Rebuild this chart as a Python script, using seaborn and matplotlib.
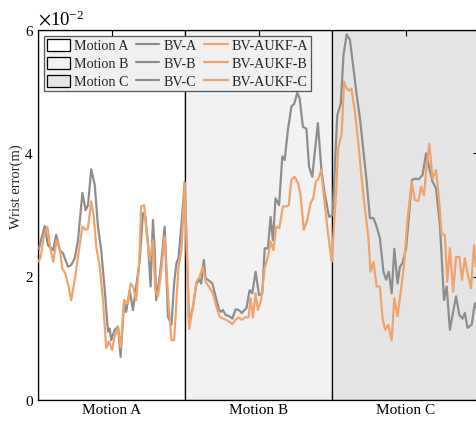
import numpy as np
import pandas as pd
import matplotlib
matplotlib.use("Agg")
import matplotlib.pyplot as plt
from matplotlib.patches import Patch
from matplotlib.lines import Line2D
from matplotlib.ticker import ScalarFormatter
import seaborn as sns

# ---------------- data (values in units of 1e-2 m) ----------------
motions = ["Motion A", "Motion B", "Motion C"]
section_edges = [0, 50, 100, 150]
tick_pos = [25, 75, 125]

t_bv_a = [0.3, 0.9, 2.3, 3.4, 5.1, 6.2, 7.4, 8.5, 10.2, 11.3, 12.5, 13.6, 15.1, 16.2, 17.0, 18.1, 19.3,
          20.4, 21.5, 22.7, 23.8, 24.4, 24.9, 26.1, 27.2, 28.1, 29.3, 30.0, 31.2, 32.3, 33.4, 34.6, 35.7,
          36.5, 37.4, 38.3, 39.1, 39.7, 40.2, 41.4, 42.0, 43.1, 44.2, 45.4, 46.3, 47.1, 47.8, 49.0, 49.9]
bv_a = [2.45, 2.57, 2.82, 2.51, 2.43, 2.68, 2.43, 2.38, 2.16, 2.19, 2.30, 2.59, 3.36, 3.08, 3.16, 3.74, 3.49,
        2.81, 2.43, 1.78, 1.11, 1.16, 0.97, 1.14, 1.19, 0.70, 1.59, 1.43, 1.78, 1.46, 1.84, 2.27, 3.03,
        2.97, 2.54, 1.84, 2.92, 2.43, 1.62, 2.00, 2.27, 2.81, 1.35, 1.22, 1.89, 2.22, 2.30, 2.97, 3.54]

t_uk_a = [0.3, 0.9, 2.0, 3.2, 4.3, 5.2, 6.3, 7.4, 8.2, 9.3, 10.4, 11.3, 12.5, 13.6, 15.1, 16.2, 17.0, 18.1,
          19.0, 19.8, 21.0, 22.1, 23.2, 24.1, 25.2, 26.1, 27.2, 28.1, 29.3, 30.6, 31.5, 32.3, 33.4, 34.4,
          35.1, 36.1, 37.2, 38.0, 39.1, 39.9, 40.8, 41.7, 43.1, 44.4, 45.4, 46.3, 47.1, 47.8, 48.8, 49.9]
aukf_a = [2.25, 2.32, 2.65, 2.81, 2.43, 2.24, 2.59, 2.46, 2.14, 2.05, 1.84, 1.62, 1.95, 2.32, 2.81, 2.76, 2.78, 3.22,
          2.97, 2.49, 2.16, 1.62, 0.84, 0.95, 0.81, 1.03, 1.19, 0.85, 1.62, 1.57, 1.89, 1.84, 1.62, 2.22,
          3.14, 3.16, 2.59, 2.27, 2.59, 1.78, 1.68, 2.00, 2.65, 1.57, 0.97, 0.97, 1.62, 2.16, 2.43, 3.51]

t_bv_b = [51.4, 52.7, 53.9, 55.0, 55.5, 56.4, 57.0, 57.8, 59.3, 60.4, 61.6, 62.3, 62.9, 63.8, 65.0, 66.1,
          67.2, 68.3, 69.3, 70.9, 72.0, 72.9, 74.0, 75.2, 76.3, 77.1, 78.2, 79.1, 79.9, 80.8, 82.0, 83.1,
          83.9, 85.0, 86.2, 87.1, 88.2, 89.0, 90.1, 91.3, 92.2, 93.3, 94.1, 95.2, 96.4, 97.5, 99.0, 99.9]
bv_b = [1.24, 1.51, 1.89, 1.95, 1.89, 2.27, 1.97, 1.95, 1.89, 1.68, 1.46, 1.43, 1.46, 1.38, 1.36, 1.32,
        1.47, 1.46, 1.41, 1.49, 1.78, 1.73, 2.08, 1.70, 1.73, 2.46, 2.46, 2.97, 2.59, 3.27, 3.16, 3.95,
        3.89, 4.38, 4.76, 4.80, 4.98, 4.89, 4.43, 4.40, 3.78, 3.62, 4.00, 4.49, 3.73, 3.35, 2.97, 2.99]

t_uk_b = [51.4, 52.7, 53.9, 55.0, 56.1, 57.0, 58.1, 59.5, 60.7, 61.8, 62.9, 64.0, 65.1, 66.1, 67.2, 68.3,
          69.3, 70.4, 71.6, 72.3, 73.1, 74.0, 74.8, 75.9, 77.1, 78.2, 79.1, 80.1, 81.0, 82.1, 83.3, 84.6,
          85.3, 86.2, 87.3, 88.5, 89.3, 90.4, 91.6, 92.7, 93.6, 94.5, 95.4, 96.3, 97.4, 98.5, 99.9]
aukf_b = [1.15, 1.51, 1.92, 2.00, 2.16, 1.92, 1.84, 1.73, 1.51, 1.35, 1.32, 1.30, 1.27, 1.23, 1.30, 1.34,
          1.30, 1.34, 1.34, 1.65, 1.34, 1.73, 1.46, 1.62, 2.14, 2.32, 2.57, 2.43, 2.81, 2.79, 3.14, 3.14,
          3.16, 3.57, 3.62, 3.51, 3.32, 2.76, 2.92, 3.19, 3.27, 3.54, 3.59, 3.73, 3.24, 2.76, 2.24]

t_bv_c = [100.2, 101.8, 103.0, 103.9, 105.0, 106.1, 107.3, 108.4, 109.5, 110.7, 111.8, 112.9, 114.1, 115.2,
          116.3, 117.5, 118.4, 119.3, 120.3, 121.2, 122.3, 123.1, 124.0, 125.2, 126.1, 127.2, 128.3, 129.5,
          130.8, 132.0, 133.1, 134.2, 135.4, 136.7, 138.1, 139.0, 140.1, 141.0, 142.2, 143.3, 144.4, 145.2,
          146.1, 147.5, 148.6, 150.0]
bv_c = [3.00, 4.62, 4.81, 5.59, 5.93, 5.84, 5.38, 4.95, 4.57, 4.03, 3.54, 2.95, 2.95, 2.81,
        2.62, 2.08, 1.95, 2.08, 1.73, 2.45, 1.89, 2.16, 2.22, 2.46, 2.95, 3.57, 3.59, 3.58,
        3.65, 4.00, 3.76, 3.54, 3.43, 2.84, 1.62, 1.84, 1.14, 1.38, 1.68, 1.38, 1.32, 1.41,
        1.17, 1.22, 1.57, 1.40]

t_uk_c = [101.4, 102.1, 103.3, 104.1, 105.0, 105.9, 106.6, 107.8, 109.0, 110.1, 111.2, 112.4, 113.1, 114.1,
          115.2, 116.3, 117.2, 118.1, 119.1, 120.3, 121.2, 122.3, 123.4, 124.5, 125.6, 127.1, 128.2, 129.4,
          130.3, 131.3, 132.1, 133.1, 134.2, 135.4, 136.5, 137.3, 138.4, 139.2, 140.1, 141.2, 142.2, 143.3,
          144.2, 145.2, 146.1, 147.3, 148.3, 149.0, 150.0]
aukf_c = [3.38, 4.08, 4.32, 5.16, 5.05, 5.02, 5.05, 4.68, 4.14, 3.59, 3.11, 2.62, 2.08, 2.24,
          1.84, 1.84, 1.32, 1.14, 1.22, 0.97, 1.65, 1.36, 1.76, 2.19, 2.89, 3.54, 3.24, 3.23,
          3.46, 3.32, 3.76, 4.15, 3.59, 3.73, 3.19, 2.68, 2.68, 1.92, 2.46, 1.76, 2.32, 2.32,
          1.95, 2.30, 2.05, 1.81, 2.51, 2.16, 2.30]

# ---------------- style ----------------
bg_colors = ["#ffffff", "#f2f2f2", "#e5e5e5"]
gray = "#8e8e8e"
orange = "#efa46c"

sns.set_theme(style="white")
plt.rcParams["font.family"] = ["Liberation Serif", "DejaVu Serif"]
plt.rcParams["mathtext.fontset"] = "stix"

df_bv = pd.DataFrame({"t": t_bv_a + t_bv_b + t_bv_c,
                      "err": np.array(bv_a + bv_b + bv_c) * 1e-2})
df_uk = pd.DataFrame({"t": t_uk_a + t_uk_b + t_uk_c,
                      "err": np.array(aukf_a + aukf_b + aukf_c) * 1e-2})

fig = plt.figure(figsize=(4.76, 4.23), dpi=100)
ax = fig.add_axes([38 / 476, 23 / 423, 441 / 476, 370 / 423])

for i in range(3):
    ax.axvspan(section_edges[i], section_edges[i + 1], facecolor=bg_colors[i],
               edgecolor="black", linewidth=0.9, zorder=0)

sns.lineplot(data=df_bv, x="t", y="err", ax=ax, color=gray, linewidth=1.6,
             estimator=None, sort=False, zorder=3)
sns.lineplot(data=df_uk, x="t", y="err", ax=ax, color=orange, linewidth=1.6,
             estimator=None, sort=False, zorder=4)

ax.set_xlim(0, 150)
ax.set_ylim(0, 0.06)
ax.set_xticks(tick_pos)
ax.set_xticklabels(motions)
ax.set_yticks([0, 0.02, 0.04, 0.06])
fmt = ScalarFormatter(useMathText=True)
fmt.set_powerlimits((0, 0))
ax.yaxis.set_major_formatter(fmt)
ax.yaxis.get_offset_text().set_fontsize(13.5)

ax.tick_params(direction="in", length=4, width=0.8, top=True, right=True,
               labelsize=11, colors="black", pad=3)
ax.set_xlabel("")
ax.set_ylabel("Wrist error(m)", fontsize=10.5)
ax.yaxis.set_label_coords(-0.034, 0.576)
for s in ax.spines.values():
    s.set_color("black")
    s.set_linewidth(0.9)

handles = [Patch(facecolor=bg_colors[i], edgecolor="black", linewidth=0.9) for i in range(3)]
handles += [Line2D([], [], color=gray, lw=1.6) for _ in range(3)]
handles += [Line2D([], [], color=orange, lw=1.6) for _ in range(3)]
labels = ["Motion A", "Motion B", "Motion C", "BV-A", "BV-B", "BV-C",
          "BV-AUKF-A", "BV-AUKF-B", "BV-AUKF-C"]
leg = ax.legend(handles, labels, ncol=3, loc="upper left",
                bbox_to_anchor=(6 / 441, 364 / 370), borderaxespad=0,
                fontsize=10.2, frameon=True, fancybox=False, framealpha=1,
                facecolor="#f0f0f0", edgecolor="#555555",
                handlelength=1.65, handleheight=0.9, handletextpad=0.3,
                columnspacing=0.5, labelspacing=0.3, borderpad=0.2)
leg.get_frame().set_linewidth(0.9)
leg.set_zorder(10)

fig.savefig("out.png", dpi=100)
